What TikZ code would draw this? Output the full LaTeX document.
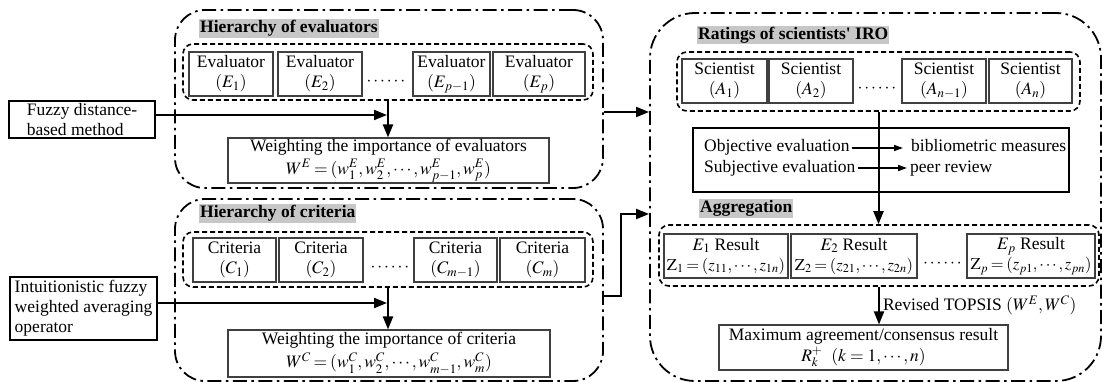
\documentclass[tikz,border=0pt]{standalone}
\usepackage{mathptmx}
\usepackage{fontspec}
\setmainfont{Liberation Serif}
\usetikzlibrary{arrows.meta}

\tikzset{
  box/.style={draw=black!75, line width=1.1pt, align=center, inner sep=0pt, minimum height=44pt},
  heavybox/.style={draw, line width=2.3pt, inner sep=0pt},
  rowbox/.style={draw, line width=1.6pt, dash pattern=on 5pt off 3pt, rounded corners=10pt, inner sep=0pt},
  stage/.style={draw, line width=1.8pt, dash pattern=on 14pt off 4.5pt on 2.5pt off 4.5pt, rounded corners=30pt, inner sep=0pt},
  heading/.style={fill=black!22, inner sep=1pt, anchor=west, font=\fontsize{17.5}{20}\selectfont\bfseries},
  modetext/.style={anchor=west, inner sep=2pt, text height=12pt, text depth=4pt},
  arr/.style={-{Triangle[length=13pt,width=10pt]}, line width=2pt},
  thinarr/.style={-{Triangle[length=9pt,width=6pt]}, line width=1.5pt},
}
\newcommand{\tightmath}{\thickmuskip=3mu\thinmuskip=2mu\medmuskip=3mu}

\begin{document}
\begin{tikzpicture}[x=1pt, y=-1pt, font=\fontsize{17.5}{20}\selectfont]
  \useasboundingbox (0,0) rectangle (1102,382);

  % outer frames
  \node[stage, minimum width=428pt, minimum height=178pt] (evalgrp) at (389,99) {};
  \node[stage, minimum width=428pt, minimum height=182pt] (critgrp) at (389,290) {};
  \node[stage, rounded corners=45pt, minimum width=451pt, minimum height=368pt] (rightgrp) at (875.5,197) {};

  % hierarchy of evaluators
  \node[heading] (evtitle) at (199,28.5) {Hierarchy of evaluators};
  \node[rowbox, minimum width=410pt, minimum height=56pt] (evrow) at (388,72) {};
  \foreach \name/\x/\w/\sub in {ev1/231/84/1, ev2/320/84/2, evp1/451.5/77/{p-1}, evp/539/92/p}
    \node[box, minimum width=\w pt] (\name) at (\x,74) {Evaluator\\$(E_{\sub})$};
  \node (evdots) at (386,82) {$\cdots\cdots$};
  \node[heavybox, minimum width=146pt, minimum height=37pt, align=left] (fuzzy) at (82,119.5) {Fuzzy distance-\\based method};
  \node[box, minimum width=321pt, minimum height=45pt] (evw) at (388.5,160.5) {Weighting the importance of evaluators\\[3pt]$\tightmath W^E=(w_1^E,w_2^E,\cdots,w_{p-1}^E,w_p^E)$};
  \draw[arr] (evrow.south) -- (evrow.south |- evw.north);
  \draw[arr, shorten >=1pt] ([yshift=4.5pt]fuzzy.east) -- ([yshift=4.5pt]fuzzy.east -| evrow.south);

  % hierarchy of criteria
  \node[heading] (crtitle) at (199,213.5) {Hierarchy of criteria};
  \node[rowbox, minimum width=410pt, minimum height=55pt] (crrow) at (388,259.5) {};
  \foreach \name/\x/\w/\sub in {cr1/234.5/83/1, cr2/321/84/2, crm1/455.5/83/{m-1}, crm/542.5/85/m}
    \node[box, minimum width=\w pt] (\name) at (\x,260) {Criteria\\$(C_{\sub})$};
  \node (crdots) at (390,268) {$\cdots\cdots$};
  \node[heavybox, minimum width=147pt, minimum height=63pt, align=left] (ifwa) at (83.5,308.5) {Intuitionistic fuzzy\\weighted averaging\\operator};
  \node[box, minimum width=322pt, minimum height=47pt] (crw) at (389,353.5) {Weighting the importance of criteria\\[3pt]$\tightmath W^C=(w_1^C,w_2^C,\cdots,w_{m-1}^C,w_m^C)$};
  \draw[arr] (crrow.south) -- (crrow.south |- crw.north);
  \draw[arr, shorten >=1pt] ([yshift=5.5pt]ifwa.east) -- ([yshift=5.5pt]ifwa.east -| crrow.south);

  % ratings of scientists
  \node[heading] (scititle) at (697,35) {Ratings of scientists\textquotesingle{} IRO};
  \node[rowbox, minimum width=403pt, minimum height=59pt] (scirow) at (878.5,81.5) {};
  \foreach \name/\x/\w/\sub in {sci1/724.5/85/1, sci2/811/84/2, scin1/944/84/{n-1}, scin/1030.5/83/n}
    \node[box, minimum width=\w pt] (\name) at (\x,81) {Scientist\\$(A_{\sub})$};
  \node (scidots) at (877,89) {$\cdots\cdots$};
  \node[heavybox, minimum width=376pt, minimum height=64pt] (evalmode) at (881,160) {};
  \node[modetext] (obj) at (702,148) {Objective evaluation};
  \node[modetext] (subj) at (702,168) {Subjective evaluation};
  \node[modetext, inner sep=0pt] (bib) at (911,148) {bibliometric measures};
  \node[modetext, inner sep=0pt] (peer) at (910,168) {peer review};
  \draw[thinarr, shorten >=8pt] (obj.east) -- (bib.west);
  \draw[thinarr, shorten >=3pt] (subj.east) -- (peer.west);

  % aggregation
  \node[heading] (aggtitle) at (699,208.5) {Aggregation};
  \node[rowbox, minimum width=440pt, minimum height=61pt] (aggrow) at (879,255.5) {};
  \foreach \name/\x/\w/\sub in {res1/726/124/1, res2/854/126/2, resp/1031/128/p}
    \node[box, minimum width=\w pt] (\name) at (\x,256) {$E_{\sub}$ Result\\{\fontsize{16.5}{20}\selectfont$\tightmath\mathrm{Z}_{\sub}=(z_{\sub 1},\cdots,z_{\sub n})$}};
  \node (resdots) at (942.5,264) {$\cdots\cdots$};
  \node[box, minimum width=289pt, minimum height=45pt] (maxres) at (863.5,347.5) {Maximum agreement/consensus result\\[1pt]$R_k^+\ \ (k=1,\cdots,n)$};
  \draw[arr] (scirow.south) -- (scirow.south |- aggrow.north);
  \draw[arr] (aggrow.south) -- node[right, inner sep=3pt] {Revised TOPSIS $(W^E,W^C)$} (aggrow.south |- maxres.north);

  % links between the stages
  \coordinate (evout) at (0,112);
  \coordinate (crout) at (0,296);
  \coordinate (crin) at (0,214);
  \draw[arr] (evalgrp.east |- evout) -- (rightgrp.west |- evout);
  \draw[arr] (critgrp.east |- crout) -- ++(17,0) |- (rightgrp.west |- crin);
\end{tikzpicture}
\end{document}
